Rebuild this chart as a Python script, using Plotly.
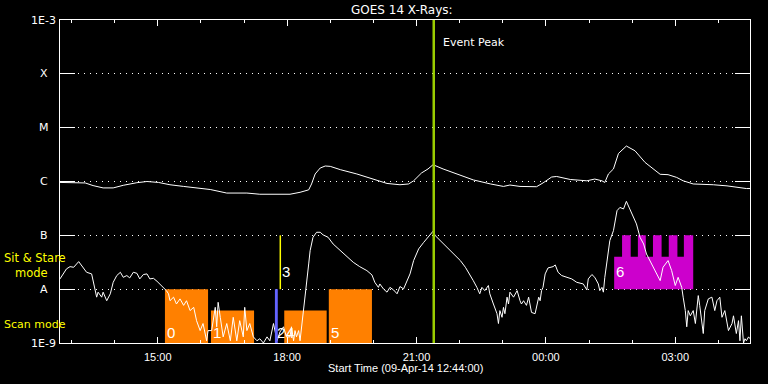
import numpy as np
import pandas as pd
import plotly.graph_objects as go

# ---------------- data ----------------
start_time = "2014-04-09 12:44:00"
end_time = "2014-04-10 04:44:00"

# GOES long channel (1-8 A): minutes after start, flux W/m^2
t_long = [0, 21, 35, 46, 60, 74, 88, 107, 121, 137, 153, 172, 190, 209, 232, 260, 278, 320, 334, 346,
          350, 355, 362, 369, 376, 390, 413, 436, 455, 473, 485, 492, 503, 512, 519, 533, 552, 575, 599, 617,
          626, 640, 663, 672, 684, 691, 710, 733, 744, 754, 758, 763, 770, 777, 788, 800, 814, 825, 835, 846,
          858, 867, 881, 909, 928, 955, 960]
f_long = [9.6e-7, 9.6e-7, 9.4e-7, 8.4e-7, 7.6e-7, 7.6e-7, 8.5e-7, 9.5e-7, 1.0e-6, 9.6e-7,
          8.7e-7, 8.1e-7, 7.6e-7, 7.1e-7, 6.1e-7, 6.1e-7, 5.8e-7, 5.8e-7, 6.3e-7, 7.0e-7,
          9.0e-7, 1.38e-6, 1.78e-6, 1.94e-6, 1.91e-6, 1.66e-6, 1.38e-6, 1.11e-6, 9.2e-7, 8.7e-7,
          9.0e-7, 1.03e-6, 1.44e-6, 1.71e-6, 2.05e-6, 1.71e-6, 1.38e-6, 1.07e-6, 9.0e-7, 8.1e-7,
          8.6e-7, 8.1e-7, 8.0e-7, 9.4e-7, 1.21e-6, 1.24e-6, 1.09e-6, 1.03e-6, 1.11e-6, 1.03e-6,
          9.6e-7, 1.38e-6, 1.71e-6, 3.32e-6, 4.56e-6, 3.72e-6, 2.26e-6, 1.71e-6, 1.36e-6, 1.34e-6,
          1.19e-6, 1.03e-6, 9.0e-7, 8.7e-7, 8.3e-7, 7.4e-7, 7.4e-7]

# GOES short channel (0.5-4 A): minutes after start, flux W/m^2
t_short = [0, 5, 9, 14, 19, 26, 30, 37, 44, 46, 51, 53, 58, 60, 65, 70, 74, 79, 84, 88,
           93, 97, 102, 107, 111, 116, 121, 125, 130, 135, 139, 144, 148, 151, 153, 158, 162, 167, 172, 176,
           181, 186, 190, 195, 199, 204, 206, 211, 216, 218, 220, 223, 227, 232, 237, 241, 246, 250, 255, 257,
           260, 264, 269, 274, 278, 283, 288, 292, 297, 302, 306, 311, 315, 320, 322, 325, 327, 329, 332, 334,
           336, 339, 341, 343, 346, 348, 352, 357, 362, 366, 373, 380, 390, 401, 408, 417, 427, 434, 438, 443,
           445, 450, 455, 459, 464, 469, 473, 478, 482, 487, 492, 499, 506, 512, 519, 522, 529, 538, 547, 557,
           564, 570, 575, 580, 584, 587, 591, 596, 598, 603, 608, 610, 612, 615, 617, 619, 622, 624, 626, 631,
           636, 640, 642, 645, 649, 652, 656, 661, 663, 666, 668, 670, 672, 675, 679, 686, 689, 693, 698, 705,
           712, 719, 724, 728, 733, 735, 740, 744, 749, 751, 754, 756, 758, 762, 765, 770, 775, 779, 784, 788,
           793, 798, 802, 807, 812, 816, 823, 830, 835, 839, 846, 851, 856, 860, 865, 867, 870, 872, 874, 877,
           881, 884, 886, 888, 890, 895, 897, 902, 907, 909, 911, 914, 918, 921, 925, 930, 935, 937, 941, 944,
           946, 948, 951, 953, 955, 958, 960]
f_short = [1.55e-8, 1.92e-8, 2.38e-8, 2.62e-8, 2.55e-8, 3.25e-8, 2.74e-8, 2.06e-8, 1.92e-8, 1.44e-8,
           7.1e-9, 8.8e-9, 7.1e-9, 8.8e-9, 6.1e-9, 8.2e-9, 1.34e-8, 1.79e-8, 2.06e-8, 1.66e-8,
           1.79e-8, 1.62e-8, 2.06e-8, 1.97e-8, 1.55e-8, 1.87e-8, 1.92e-8, 1.55e-8, 1.59e-8, 1.40e-8,
           1.25e-8, 1.08e-8, 9.4e-9, 8.2e-9, 6.1e-9, 7.1e-9, 5.3e-9, 6.6e-9, 5.0e-9, 6.1e-9,
           4.0e-9, 4.6e-9, 2.6e-9, 1.7e-9, 2.3e-9, 1.1e-9, 1.7e-9, 1.7e-9, 4.6e-9, 2.0e-9,
           5.7e-9, 3.0e-9, 1.3e-9, 2.3e-9, 1.1e-9, 3.0e-9, 1.1e-9, 2.6e-9, 1.3e-9, 4.6e-9,
           1.7e-9, 2.3e-9, 1.3e-9, 1.1e-9, 1.2e-9, 1.0e-9, 1.3e-9, 1.1e-9, 2.3e-9, 1.1e-9,
           1.6e-9, 2.0e-9, 1.3e-9, 1.3e-9, 2.0e-9, 1.1e-9, 1.7e-9, 1.3e-9, 1.7e-9, 1.1e-9,
           2.0e-9, 4.0e-9, 7.1e-9, 1.44e-8, 2.94e-8, 5.2e-8, 9.2e-8, 1.14e-7, 1.14e-7, 1.02e-7,
           9.2e-8, 6.9e-8, 5.2e-8, 3.91e-8, 3.16e-8, 2.62e-8, 2.21e-8, 1.84e-8, 1.34e-8, 1.08e-8,
           1.25e-8, 1.01e-8, 8.8e-9, 1.08e-8, 9.7e-9, 8.2e-9, 1.12e-8, 1.01e-8, 1.34e-8, 1.92e-8,
           3.4e-8, 5.6e-8, 7.4e-8, 9.2e-8, 1.19e-7, 9.9e-8, 8.0e-8, 6.0e-8, 4.5e-8, 3.4e-8,
           2.55e-8, 1.92e-8, 1.44e-8, 1.08e-8, 8.2e-9, 1.08e-8, 9.4e-9, 1.17e-8, 8.2e-9, 5.3e-9,
           3.5e-9, 2.3e-9, 4.0e-9, 3.0e-9, 4.6e-9, 3.5e-9, 7.1e-9, 5.3e-9, 8.8e-9, 7.1e-9,
           9.4e-9, 6.1e-9, 5.3e-9, 6.1e-9, 5.0e-9, 7.1e-9, 3.7e-9, 3.5e-9, 5.0e-9, 7.1e-9,
           6.1e-9, 9.4e-9, 1.08e-8, 1.92e-8, 2.48e-8, 2.62e-8, 2.82e-8, 2.06e-8, 1.79e-8, 1.66e-8,
           1.55e-8, 1.34e-8, 1.29e-8, 1.25e-8, 9.7e-9, 1.55e-8, 1.87e-8, 1.66e-8, 1.25e-8, 9.4e-9,
           1.08e-8, 8.8e-9, 1.66e-8, 4.5e-8, 8.0e-8, 1.22e-7, 2.87e-7, 3.3e-7, 3.09e-7, 4.28e-7,
           3.09e-7, 2.16e-7, 1.63e-7, 9.2e-8, 6.9e-8, 4.5e-8, 2.94e-8, 1.92e-8, 1.44e-8, 2.55e-8,
           3.4e-8, 2.21e-8, 1.17e-8, 1.66e-8, 1.08e-8, 7.1e-9, 4.0e-9, 2.0e-9, 4.0e-9, 3.2e-9,
           4.0e-9, 2.3e-9, 3.7e-9, 7.6e-9, 5.0e-9, 1.5e-9, 4.0e-9, 6.6e-9, 7.1e-9, 5.3e-9,
           4.0e-9, 6.1e-9, 7.1e-9, 3.0e-9, 4.0e-9, 1.7e-9, 2.3e-9, 3.2e-9, 1.5e-9, 2.6e-9,
           1.1e-9, 3.2e-9, 1.0e-9, 1.2e-9, 1.1e-9, 1.3e-9, 1.2e-9]

# Y axis ticks
y_tickvals = [1e-9, 1e-8, 1e-7, 1e-6, 1e-5, 1e-4, 1e-3]
y_ticktext = ["1E-9", "A", "B", "C", "M", "X", "1E-3"]

# IRIS scan-mode blocks (orange)
scan_start = ["2014-04-09 15:10", "2014-04-09 16:14", "2014-04-09 17:56", "2014-04-09 18:58"]
scan_end = ["2014-04-09 16:10", "2014-04-09 17:14", "2014-04-09 18:55", "2014-04-09 19:58"]
scan_top = [1e-8, 4e-9, 4e-9, 1e-8]
scan_num = ["0", "1", "4", "5"]

# other scan-mode block (blue)
other_start = ["2014-04-09 17:43"]
other_end = ["2014-04-09 17:47"]
other_top = [1e-8]
other_num = ["2"]

# sit & stare short block (yellow line)
sit_line_time = ["2014-04-09 17:50:30"]
sit_line_num = ["3"]

# sit & stare block (magenta): base band and towers
sit_start = ["2014-04-10 01:35"]
sit_end = ["2014-04-10 03:25"]
sit_num = ["6"]
sit_base_top = 4e-8
tower_start = ["2014-04-10 01:46", "2014-04-10 02:08", "2014-04-10 02:29", "2014-04-10 02:51", "2014-04-10 03:12"]
tower_end = ["2014-04-10 01:58", "2014-04-10 02:19", "2014-04-10 02:41", "2014-04-10 03:03", "2014-04-10 03:25"]

scan_floor = 1e-9
sit_floor = 1e-8
sit_ceiling = 1e-7

event_peak = "2014-04-09 21:24"

# ---------------- helpers ----------------
t0 = pd.Timestamp(start_time)


def mins_to_time(mins):
    return [(t0 + pd.Timedelta(minutes=m)).strftime("%Y-%m-%d %H:%M:%S") for m in mins]


def rects(x0s, x1s, y0s, y1s):
    xs, ys = [], []
    for a, b, c, d in zip(x0s, x1s, y0s, y1s):
        xs += [a, a, b, b, a, None]
        ys += [c, d, d, c, c, None]
    return xs, ys


fig = go.Figure()

# orange scan blocks
xs, ys = rects(scan_start, scan_end, [scan_floor] * len(scan_start), scan_top)
fig.add_trace(go.Scatter(x=xs, y=ys, mode="lines", fill="toself", fillcolor="#ff8000",
                         line=dict(width=0, color="#ff8000"), hoverinfo="skip"))

# magenta sit & stare
bx, by = rects(sit_start, sit_end, [sit_floor], [sit_base_top])
tx, ty = rects(tower_start, tower_end, [sit_base_top] * len(tower_start), [sit_ceiling] * len(tower_start))
fig.add_trace(go.Scatter(x=bx + tx, y=by + ty, mode="lines", fill="toself", fillcolor="#cc00cc",
                         line=dict(width=0, color="#cc00cc"), hoverinfo="skip"))

# GOES curves
fig.add_trace(go.Scatter(x=mins_to_time(t_long), y=f_long, mode="lines",
                         line=dict(color="white", width=1)))
fig.add_trace(go.Scatter(x=mins_to_time(t_short), y=f_short, mode="lines",
                         line=dict(color="white", width=1)))

# blue block
xs, ys = rects(other_start, other_end, [scan_floor] * len(other_start), other_top)
fig.add_trace(go.Scatter(x=xs, y=ys, mode="lines", fill="toself", fillcolor="#6464ff",
                         line=dict(width=0, color="#6464ff"), hoverinfo="skip"))

# yellow sit & stare line
for t in sit_line_time:
    fig.add_trace(go.Scatter(x=[t, t], y=[sit_floor, sit_ceiling], mode="lines",
                             line=dict(color="#ffff00", width=1.5)))

# event peak line
fig.add_trace(go.Scatter(x=[event_peak, event_peak], y=[1e-9, 1e-3], mode="lines",
                         line=dict(color="#99cc00", width=2.5)))

ann = []
lab_font = dict(family="Liberation Sans", size=15, color="white")
for s, n in zip(scan_start + other_start, scan_num + other_num):
    ann.append(dict(x=s, y=np.log10(scan_floor), xref="x", yref="y", text=n, showarrow=False,
                    xanchor="left", yanchor="bottom", xshift=0, yshift=0, font=lab_font))
for s, n in zip(sit_line_time + sit_start, sit_line_num + sit_num):
    ann.append(dict(x=s, y=np.log10(sit_floor), xref="x", yref="y", text=n, showarrow=False,
                    xanchor="left", yanchor="bottom", xshift=0, yshift=7, font=lab_font))

# y tick labels (centered)
for v, t in zip(y_tickvals, y_ticktext):
    ann.append(dict(x=-0.0232, y=np.log10(v), xref="paper", yref="y", text=t, showarrow=False,
                    xanchor="center", yanchor="middle",
                    font=dict(family="DejaVu Sans", size=11, color="white")))

yellow = "#ffff00"
ann.append(dict(x=-0.0841, y=0.240, xref="paper", yref="paper",
                text="Sit & Stare<br>&nbsp;&nbsp;&nbsp;mode", showarrow=False, align="left",
                xanchor="left", yanchor="middle",
                font=dict(family="DejaVu Sans", size=11.5, color=yellow)))
ann.append(dict(x=-0.0841, y=0.0588, xref="paper", yref="paper", text="Scan mode", showarrow=False,
                xanchor="left", yanchor="middle", font=dict(family="DejaVu Sans", size=11, color=yellow)))

ann.append(dict(x=0.496, y=1.0325, xref="paper", yref="paper", text="GOES 14 X-Rays:", showarrow=False,
                xanchor="center", yanchor="middle", font=dict(family="DejaVu Sans", size=12, color="white")))
ann.append(dict(x=event_peak, y=0.9288, xref="x", yref="paper", text="Event Peak", showarrow=False,
                xanchor="left", yanchor="middle", xshift=7,
                font=dict(family="DejaVu Sans", size=11, color="white")))
ann.append(dict(x=0.5, y=-0.0783, xref="paper", yref="paper", text="Start Time (09-Apr-14 12:44:00)",
                showarrow=False, xanchor="center", yanchor="middle",
                font=dict(family="Liberation Sans", size=11, color="white")))

fig.update_layout(
    width=768, height=384, autosize=False,
    margin=dict(l=60, r=18, t=20, b=41),
    paper_bgcolor="black", plot_bgcolor="black",
    showlegend=False,
    annotations=ann,
    xaxis=dict(type="date", range=[start_time, end_time],
               showline=True, linecolor="white", linewidth=1, mirror="ticks",
               ticks="inside", ticklen=6, tickcolor="white", tickwidth=1,
               tick0="2014-04-09 15:00", dtick=3 * 3600000, tickformat="%H:%M",
               ticklabelstandoff=4,
               minor=dict(ticks="inside", ticklen=3, tickcolor="white", dtick=3600000, showgrid=False),
               showgrid=False, zeroline=False,
               tickfont=dict(family="Liberation Sans", size=11, color="white")),
    yaxis=dict(type="log", range=[-9, -3],
               showline=True, linecolor="white", linewidth=1, mirror="ticks",
               ticks="inside", ticklen=15, tickcolor="white", tickwidth=1,
               tickvals=y_tickvals, showticklabels=False,
               showgrid=True, gridcolor="white", gridwidth=1, griddash="1px,5px",
               zeroline=False),
)

fig.write_html("out.html",
               config={"displayModeBar": False},
               post_script="document.body.style.margin='0px';document.body.style.overflow='hidden';"
                           "document.body.style.background='black';")
